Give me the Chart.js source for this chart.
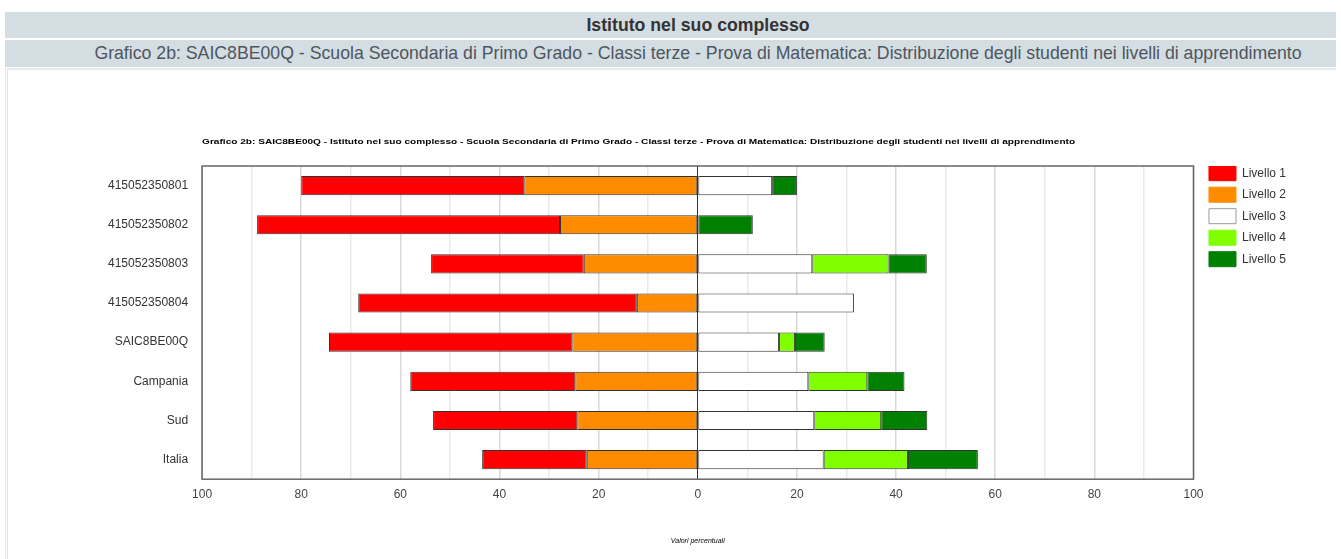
<!DOCTYPE html>
<html>
<head>
<meta charset="utf-8">
<script src="https://cdn.jsdelivr.net/npm/chart.js@4"></script>
<style>
    body { margin: 0; background: #fff; font-family: "Liberation Sans", Arial, sans-serif; overflow: hidden; }
    .bar { position: absolute; left: 5px; width: 1331px; box-sizing: border-box; padding-left: 55px; background: #d4dde2; text-align: center; white-space: nowrap; }
    #h1 { top: 12px; height: 26px; line-height: 26px; font-weight: bold; font-size: 17.7px; color: #333; }
    #h2 { top: 40px; height: 27px; line-height: 27px; font-size: 17.7px; color: #4d5660; }
    #box { position: absolute; left: 5px; top: 68px; width: 1328px; height: 491px; border-left: 3px double #dfe7eb; border-top: 2px solid #e4ebee; }
    #wrap { position: absolute; left: 8px; top: 70px; width: 1328px; height: 489px; }
</style>
</head>
<body>
<div class="bar" id="h1">Istituto nel suo complesso</div>
<div class="bar" id="h2">Grafico 2b: SAIC8BE00Q - Scuola Secondaria di Primo Grado - Classi terze - Prova di Matematica: Distribuzione degli studenti nei livelli di apprendimento</div>
<div id="box"></div>
<div id="wrap"><canvas id="graph"></canvas></div>
<script>
const chartTitle = "Grafico 2b: SAIC8BE00Q - Istituto nel suo complesso - Scuola Secondaria di Primo Grado - Classi terze - Prova di Matematica: Distribuzione degli studenti nei livelli di apprendimento";
const categories = ["415052350801", "415052350802", "415052350803", "415052350804", "SAIC8BE00Q", "Campania", "Sud", "Italia"];
// percentages per level (levels 1 and 2 are drawn to the left)
const livello1 = [45.0, 61.1, 30.8, 56.2, 49.1, 33.3, 29.1, 21.1];
const livello2 = [35.0, 27.8, 23.0, 12.3, 25.3, 24.7, 24.3, 22.4];
const livello3 = [15.0, 0, 23.1, 31.5, 16.4, 22.3, 23.5, 25.4];
const livello4 = [0, 0, 15.4, 0, 3.2, 11.9, 13.5, 17.0];
const livello5 = [5.0, 11.1, 7.7, 0, 6.0, 7.5, 9.3, 14.1];
const xTicks = [-100, -80, -60, -40, -20, 0, 20, 40, 60, 80, 100];

Chart.defaults.font.family = '"Liberation Sans", Arial, sans-serif';

// frame around the plot + small bold title above it
const framePlugin = {
    id: "frame",
    afterDraw(chart) {
        const { ctx, chartArea: a } = chart;
        ctx.save();
        ctx.strokeStyle = "#666";
        ctx.lineWidth = 1.5;
        ctx.strokeRect(a.left, a.top, a.right - a.left, a.bottom - a.top);
        ctx.fillStyle = "#000";
        ctx.font = 'bold 8px "Liberation Sans", Arial, sans-serif';
        ctx.textBaseline = "middle";
        // the title is a wide, low font in the original: stretch it to its width
        const w = ctx.measureText(chartTitle).width;
        ctx.translate(a.left, 72);
        ctx.scale(873 / w, 1);
        ctx.fillText(chartTitle, 0, 0);
        ctx.restore();
    }
};

function ds(label, values, color, sign) {
    return {
        label: label,
        data: values.map(v => v * sign),
        backgroundColor: color,
        borderColor: "#333",
        borderWidth: 1,
        borderSkipped: false
    };
}

new Chart(document.getElementById("graph"), {
    type: "bar",
    data: {
        labels: categories,
        datasets: [
            ds("Livello 2", livello2, "#ff8c00", -1),
            ds("Livello 1", livello1, "#ff0000", -1),
            ds("Livello 3", livello3, "#ffffff", 1),
            ds("Livello 4", livello4, "#80ff00", 1),
            ds("Livello 5", livello5, "#008000", 1)
        ]
    },
    options: {
        indexAxis: "y",
        responsive: true,
        maintainAspectRatio: false,
        animation: false,
        categoryPercentage: 1,
        barPercentage: 0.49,
        layout: { padding: { top: 96, left: 94, right: 40, bottom: 10 } },
        scales: {
            x: {
                stacked: true,
                min: -100,
                max: 100,
                afterBuildTicks: axis => { axis.ticks = [];
                    for (let v = -100; v <= 100; v += 10) axis.ticks.push({ value: v }); },
                ticks: {
                    autoSkip: false,
                    maxRotation: 0,
                    padding: 8,
                    color: "#444",
                    font: { size: 12 },
                    callback: v => xTicks.includes(v) ? Math.abs(v) : ""
                },
                grid: {
                    drawTicks: false,
                    color: c => c.tick.value === 0 ? "#333" : (c.tick.value % 20 === 0 ? "#d9d9d9" : "#eaeaea"),
                    lineWidth: c => c.tick.value === 0 ? 1 : 1.5
                },
                border: { display: false },
                title: {
                    display: true,
                    text: "Valori percentuali",
                    font: { size: 7, style: "italic" },
                    color: "#000",
                    padding: { top: 27, bottom: 4 }
                }
            },
            y: {
                stacked: true,
                grid: { display: false },
                border: { display: false },
                ticks: { padding: 6, color: "#333", font: { size: 12 } }
            },
            // empty spacer between plot and legend
            gap: {
                type: "category",
                axis: "y",
                position: "right",
                grid: { display: false },
                border: { display: false },
                ticks: { display: false },
                afterFit: s => { s.width = 9; }
            }
        },
        plugins: {
            tooltip: { enabled: false },
            legend: {
                position: "right",
                align: "start",
                title: { display: true, text: " ", font: { size: 1 }, padding: { top: -8, bottom: 0 } },
                labels: {
                    boxWidth: 27,
                    boxHeight: 15,
                    padding: 6.5,
                    color: "#333",
                    font: { size: 12 },
                    sort: (a, b) => a.text.localeCompare(b.text),
                    generateLabels: chart => {
                        const items = Chart.defaults.plugins.legend.labels.generateLabels(chart);
                        items.forEach(it => {
                            it.strokeStyle = it.text === "Livello 3" ? "#999" : it.fillStyle;
                            it.lineWidth = 1;
                        });
                        return items;
                    }
                }
            }
        }
    },
    plugins: [framePlugin]
});
</script>
</body>
</html>
